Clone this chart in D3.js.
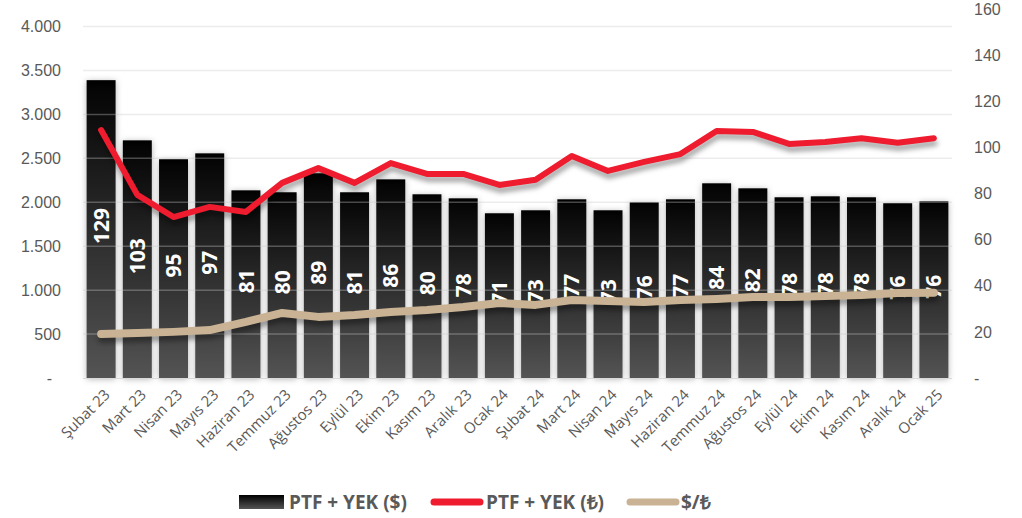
<!DOCTYPE html>
<html>
<head>
<meta charset="utf-8">
<script src="https://cdnjs.cloudflare.com/ajax/libs/d3/7.8.5/d3.min.js"></script>
<style>
	body { margin: 0; background: #fff; }
	svg { font-family: "Open Sans", sans-serif; }
	.axis text { fill: #595959; }
	.axis path, .axis line { display: none; }
</style>
</head>
<body>
<script>
// data
var months = ['Şubat 23', 'Mart 23', 'Nisan 23', 'Mayıs 23', 'Haziran 23', 'Temmuz 23', 'Ağustos 23', 'Eylül 23',
	'Ekim 23', 'Kasım 23', 'Aralık 23', 'Ocak 24', 'Şubat 24', 'Mart 24', 'Nisan 24', 'Mayıs 24', 'Haziran 24',
	'Temmuz 24', 'Ağustos 24', 'Eylül 24', 'Ekim 24', 'Kasım 24', 'Aralık 24', 'Ocak 25'];
var barValues = [3390, 2705, 2490, 2557, 2136, 2114, 2330, 2114, 2261, 2091, 2045, 1875,
	1909, 2034, 1909, 2000, 2034, 2216, 2159, 2057, 2068, 2057, 1989, 2011];
var barLabels = [129, 103, 95, 97, 81, 80, 89, 81, 86, 80, 78, 71, 73, 77, 73, 76, 77, 84, 82, 78, 78, 78, 76, 76];
var tlLine = [107.5, 79.4, 69.8, 74.2, 72, 84.6, 91, 84.6, 93.2, 88.5, 88.5, 83.7,
	86, 96.3, 89.8, 93.7, 97.1, 107.1, 106.7, 101.5, 102.3, 104, 102, 104];
var usdTry = [19.1, 19.5, 20, 20.8, 24.3, 28.2, 26.5, 27.3, 28.6, 29.5, 30.8, 32.5,
	31.7, 33.8, 33.4, 33, 33.8, 34.3, 35.1, 35.1, 35.6, 36, 36.9, 37];
var leftTicks = [0, 500, 1000, 1500, 2000, 2500, 3000, 3500, 4000];
var rightTicks = [0, 20, 40, 60, 80, 100, 120, 140, 160];
var legendNames = ['PTF + YEK ($)', 'PTF + YEK (₺)', '$/₺'];

var props = {
	width: 1022,
	height: 518,
	left: 83,
	right: 952,
	top: 9,
	bottom: 378,
	red: '#ee1c2e',
	tan: '#c9b394',
	grey: '#595959'
};

var svg = d3.select('body').append('svg')
	.attr('width', props.width)
	.attr('height', props.height);

var defs = svg.append('defs');
var grad = defs.append('linearGradient')
	.attr('id', 'barGrad')
	.attr('x1', 0).attr('y1', 0).attr('x2', 0).attr('y2', 1);
grad.append('stop').attr('offset', '0%').attr('stop-color', '#000');
grad.append('stop').attr('offset', '3%').attr('stop-color', '#050505');
grad.append('stop').attr('offset', '100%').attr('stop-color', '#545454');

var legGrad = defs.append('linearGradient')
	.attr('id', 'legGrad')
	.attr('x1', 0).attr('y1', 0).attr('x2', 0).attr('y2', 1);
legGrad.append('stop').attr('offset', '0%').attr('stop-color', '#000');
legGrad.append('stop').attr('offset', '100%').attr('stop-color', '#555');

var shadow = defs.append('filter').attr('id', 'shadow')
	.attr('color-interpolation-filters', 'sRGB')
	.attr('x', '-30%').attr('y', '-10%').attr('width', '160%').attr('height', '120%');
shadow.append('feDropShadow')
	.attr('dx', 0).attr('dy', 1).attr('stdDeviation', 3)
	.attr('flood-color', '#000').attr('flood-opacity', 0.3);

var lineShadow = defs.append('filter').attr('id', 'lineShadow')
	.attr('color-interpolation-filters', 'sRGB')
	.attr('x', '-10%').attr('y', '-30%').attr('width', '120%').attr('height', '160%');
lineShadow.append('feDropShadow')
	.attr('dx', 1).attr('dy', 5).attr('stdDeviation', 2.5)
	.attr('flood-color', '#000').attr('flood-opacity', 0.35);

// scales
var x = d3.scaleBand()
	.domain(months)
	.range([props.left, props.right])
	.paddingInner(0.2)
	.paddingOuter(0.1);

var yLeft = d3.scaleLinear()
	.domain([0, 4200])
	.range([props.bottom, props.top]);

var yRight = d3.scaleLinear()
	.domain([0, 160])
	.range([props.bottom, props.top]);

// axes
var fmt = function(d) {
	return d === 0 ? '-' : d3.format(',')(d).replace(/,/g, '.');
};

var leftAxis = svg.append('g')
	.attr('class', 'axis')
	.attr('transform', 'translate(' + (props.left - 14) + ',0)')
	.call(d3.axisLeft(yLeft).tickValues(leftTicks).tickFormat(fmt).tickSize(0).tickPadding(8));
leftAxis.selectAll('text').style('font-size', '16px');
leftAxis.selectAll('.tick').filter(function(d) { return d === 0; }).select('text').attr('dx', '-9');

var rightAxis = svg.append('g')
	.attr('class', 'axis')
	.attr('transform', 'translate(' + (props.right + 14) + ',0)')
	.call(d3.axisRight(yRight).tickValues(rightTicks).tickFormat(function(d) { return d === 0 ? '-' : d; }).tickSize(0).tickPadding(8));
rightAxis.selectAll('text').style('font-size', '16px');

// bars
svg.append('g')
	.selectAll('rect')
	.data(barValues)
	.join('rect')
		.attr('x', function(d, i) { return x(months[i]); })
		.attr('y', function(d) { return yLeft(d); })
		.attr('width', x.bandwidth())
		.attr('height', function(d) { return yLeft(0) - yLeft(d); })
		.attr('fill', 'url(#barGrad)')
		.attr('filter', 'url(#shadow)');

// gridlines (drawn faintly over the bars as in the original)
svg.append('g')
	.selectAll('line')
	.data(leftTicks.slice(1))
	.join('line')
		.attr('x1', props.left)
		.attr('x2', props.right)
		.attr('y1', function(d) { return yLeft(d); })
		.attr('y2', function(d) { return yLeft(d); })
		.attr('stroke', '#c8c8c8')
		.attr('stroke-opacity', 0.35)
		.attr('stroke-width', 1.5);

// baseline
svg.append('line')
	.attr('x1', props.left).attr('x2', props.right)
	.attr('y1', props.bottom + 0.5).attr('y2', props.bottom + 0.5)
	.attr('stroke', '#d9d9d9').attr('stroke-width', 1);

// bar labels
svg.append('g')
	.selectAll('text')
	.data(barLabels)
	.join('text')
		.attr('transform', function(d, i) {
			var cx = x(months[i]) + x.bandwidth() / 2;
			var cy = (yLeft(barValues[i]) + yLeft(0)) / 2 - 3;
			return 'translate(' + cx + ',' + cy + ') rotate(-90)';
		})
		.attr('text-anchor', 'middle')
		.attr('dy', '0.36em')
		.attr('fill', '#fff')
		.style('font-size', '21px')
		.style('font-weight', 'bold')
		.text(function(d) { return d; });

// lines
var cxOf = function(i) { return x(months[i]) + x.bandwidth() / 2; };

var rightLine = d3.line()
	.x(function(d, i) { return cxOf(i); })
	.y(function(d) { return yRight(d); });

svg.append('path')
	.datum(usdTry)
	.attr('d', rightLine)
	.attr('fill', 'none')
	.attr('stroke', props.tan)
	.attr('stroke-width', 8)
	.attr('stroke-linecap', 'round')
	.attr('stroke-linejoin', 'round')
	.attr('filter', 'url(#lineShadow)');

svg.append('path')
	.datum(tlLine)
	.attr('d', rightLine)
	.attr('fill', 'none')
	.attr('stroke', props.red)
	.attr('stroke-width', 6)
	.attr('stroke-linecap', 'round')
	.attr('stroke-linejoin', 'round')
	.attr('filter', 'url(#lineShadow)');

// x labels
svg.append('g')
	.selectAll('text')
	.data(months)
	.join('text')
		.attr('transform', function(d, i) {
			return 'translate(' + (cxOf(i) + 6) + ',' + (props.bottom + 14) + ') rotate(-45)';
		})
		.attr('text-anchor', 'end')
		.attr('dy', '0.35em')
		.attr('fill', props.grey)
		.style('font-size', '15px')
		.text(function(d) { return d; });

// legend
var legend = svg.append('g').attr('class', 'legend');
legend.append('rect')
	.attr('x', 239).attr('y', 495).attr('width', 45).attr('height', 14)
	.attr('fill', 'url(#legGrad)');
legend.append('line')
	.attr('x1', 434).attr('x2', 480).attr('y1', 502).attr('y2', 502)
	.attr('stroke', props.red).attr('stroke-width', 7).attr('stroke-linecap', 'round');
legend.append('line')
	.attr('x1', 630).attr('x2', 676).attr('y1', 502).attr('y2', 502)
	.attr('stroke', props.tan).attr('stroke-width', 7).attr('stroke-linecap', 'round');

var legendX = [289, 486, 681];
legend.selectAll('text')
	.data(legendNames)
	.join('text')
		.attr('x', function(d, i) { return legendX[i]; })
		.attr('y', 502)
		.attr('dy', '0.36em')
		.attr('fill', props.grey)
		.style('font-size', '19px')
		.style('font-weight', 'bold')
		.text(function(d) { return d; });
</script>
</body>
</html>
